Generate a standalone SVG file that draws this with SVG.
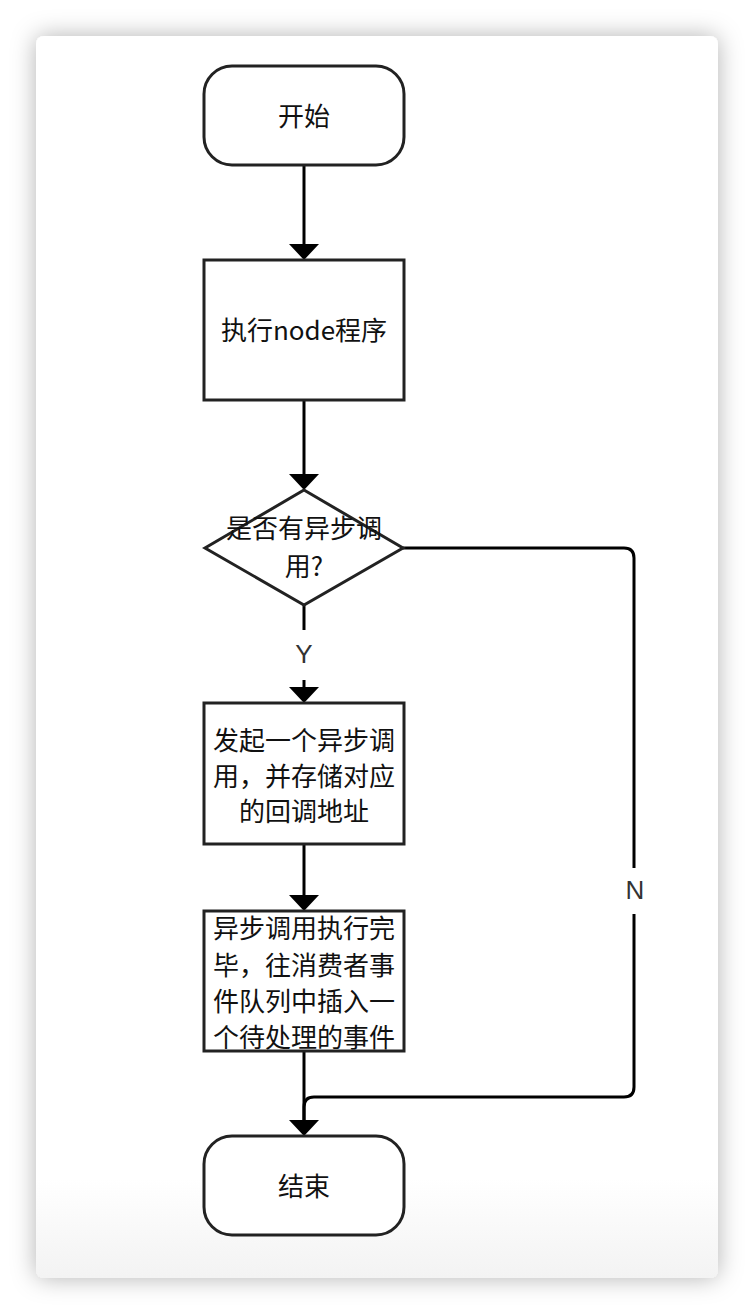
<svg xmlns="http://www.w3.org/2000/svg" width="754" height="1314" viewBox="0 0 754 1314">
<defs>
<filter id="sh" x="-10%" y="-10%" width="120%" height="120%">
<feDropShadow dx="0" dy="0" stdDeviation="12" flood-color="#000" flood-opacity="0.3"/>
</filter>
<linearGradient id="bg" x1="0" y1="0" x2="0" y2="1">
<stop offset="0.92" stop-color="#ffffff"/>
<stop offset="1" stop-color="#f3f3f3"/>
</linearGradient>
</defs>
<style>
.n{fill:#fff;stroke:#222;stroke-width:3}
.t{font-family:"Noto Sans CJK SC","Liberation Sans",sans-serif;font-size:26px;fill:#111;text-anchor:middle;dominant-baseline:central}
.c{fill:none;stroke:#000;stroke-width:3}
.h{fill:#000}
.l{font-family:"Liberation Sans","Noto Sans",sans-serif;font-size:26px;fill:#333;text-anchor:middle;dominant-baseline:central}
</style>
<rect width="754" height="1314" fill="#fff"/>
<rect x="36" y="36" width="682" height="1242" rx="8" fill="url(#bg)" filter="url(#sh)"/>
<g id="connectors">
<line class="c" x1="304" y1="165" x2="304" y2="245"/>
<path class="h" d="M289,244 L319,244 L304,260 Z"/>
<line class="c" x1="304" y1="400" x2="304" y2="475"/>
<path class="h" d="M289,474 L319,474 L304,490 Z"/>
<line class="c" x1="304" y1="605" x2="304" y2="630"/>
<line class="c" x1="304" y1="680" x2="304" y2="688"/>
<path class="h" d="M289,687 L319,687 L304,703 Z"/>
<text class="l" x="304" y="654">Y</text>
<line class="c" x1="304" y1="844" x2="304" y2="896"/>
<path class="h" d="M289,895 L319,895 L304,911 Z"/>
<line class="c" x1="304" y1="1051" x2="304" y2="1121"/>
<path class="c" d="M403,548 L624,548 Q634,548 634,558 L634,868 M634,914 L634,1087 Q634,1097 624,1097 L314,1097 Q304,1097 304,1107 L304,1121"/>
<path class="h" d="M289,1120 L319,1120 L304,1136 Z"/>
<text class="l" x="635" y="890">N</text>
</g>
<g id="start">
<rect class="n" x="204" y="66" width="200" height="99" rx="28"/>
<text class="t" x="304" y="114">开始</text>
</g>
<g id="exec">
<rect class="n" x="204" y="260" width="200" height="140"/>
<text class="t" x="304" y="328">执行node程序</text>
</g>
<g id="decision">
<path class="n" d="M304,490 L403,548 L304,605 L205,548 Z"/>
<text class="t" x="304" y="526">是否有异步调</text>
<text class="t" x="304" y="564">用?</text>
</g>
<g id="call">
<rect class="n" x="204" y="703" width="200" height="141"/>
<text class="t" x="304" y="738">发起一个异步调</text>
<text class="t" x="304" y="774">用，并存储对应</text>
<text class="t" x="304" y="809">的回调地址</text>
</g>
<g id="done">
<rect class="n" x="204" y="911" width="200" height="140"/>
<text class="t" x="304" y="926">异步调用执行完</text>
<text class="t" x="304" y="963">毕，往消费者事</text>
<text class="t" x="304" y="999">件队列中插入一</text>
<text class="t" x="304" y="1035">个待处理的事件</text>
</g>
<g id="end">
<rect class="n" x="204" y="1136" width="200" height="99" rx="28"/>
<text class="t" x="304" y="1184">结束</text>
</g>
</svg>
